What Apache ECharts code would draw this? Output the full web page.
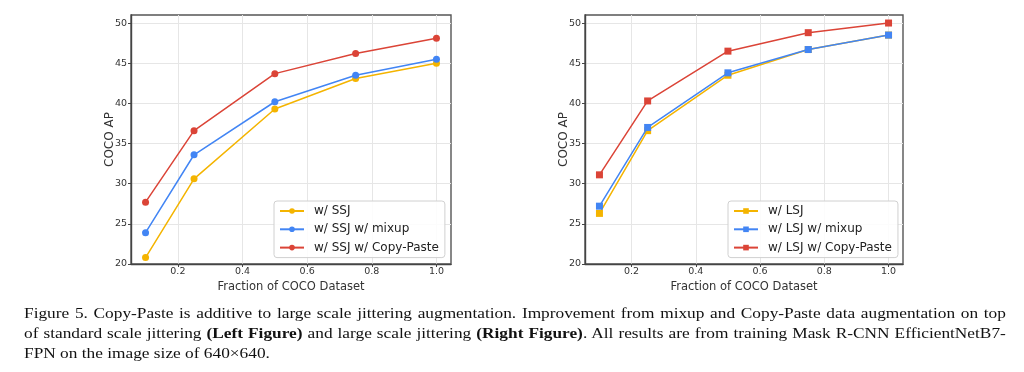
<!DOCTYPE html>
<html>
<head>
<meta charset="utf-8">
<script src="https://cdn.jsdelivr.net/npm/echarts@6/dist/echarts.min.js"></script>
<style>
  html, body { margin: 0; padding: 0; background: #fff; }
  #wrap { position: relative; width: 1024px; height: 372px; overflow: hidden; }
  #chart { position: absolute; left: 0; top: 0; width: 1024px; height: 372px; }
  #caption { position: absolute; left: 24px; top: 303px; width: 879px;
    transform: scaleX(1.117); transform-origin: 0 0;
    font-family: "Liberation Serif", "Times New Roman", serif; font-size: 15.5px; line-height: 19.8px; color: #111; }
  #caption .j { text-align: justify; text-align-last: justify; white-space: nowrap; }
  #caption b { font-weight: bold; }
</style>
</head>
<body>
<div id="wrap">
  <div id="chart"></div>
  <div id="caption">
    <div class="j">Figure 5. Copy-Paste is additive to large scale jittering augmentation. Improvement from mixup and Copy-Paste data augmentation on top</div>
    <div class="j">of standard scale jittering <b>(Left Figure)</b> and large scale jittering <b>(Right Figure)</b>. All results are from training Mask R-CNN EfficientNetB7-</div>
    <div>FPN on the image size of 640×640.</div>
  </div>
</div>
<script>
// ---- data ----
const fractions = [0.1, 0.25, 0.5, 0.75, 1.0];
const ssj = [20.8, 30.6, 39.3, 43.1, 45.0];
const ssjMixup = [23.9, 33.6, 40.2, 43.5, 45.5];
const ssjCopyPaste = [27.7, 36.6, 43.7, 46.2, 48.1];
const lsj = [26.3, 36.6, 43.5, 46.7, 48.5];
const lsjMixup = [27.2, 37.0, 43.8, 46.7, 48.5];
const lsjCopyPaste = [31.1, 40.3, 46.5, 48.8, 50.0];
const xTicks = [0.2, 0.4, 0.6, 0.8, 1.0];
const yTicks = [20, 25, 30, 35, 40, 45, 50];
const namesLeft = ['w/ SSJ', 'w/ SSJ w/ mixup', 'w/ SSJ w/ Copy-Paste'];
const namesRight = ['w/ LSJ', 'w/ LSJ w/ mixup', 'w/ LSJ w/ Copy-Paste'];
const xTitle = 'Fraction of COCO Dataset';
const yTitle = 'COCO AP';

const colors = ['#F4B400', '#4285F4', '#DB4437'];
const FONT = 'DejaVu Sans';

function pts(vals) { return fractions.map((x, i) => [x, vals[i]]); }

function xAxisCfg(gi) {
  return {
    type: 'value', gridIndex: gi, min: 0.055, max: 1.045,
    name: xTitle, nameLocation: 'middle', nameGap: 17, nameMoveOverlap: false,
    nameTextStyle: { fontFamily: FONT, fontSize: 11.5, color: '#333' },
    axisLine: { show: true, lineStyle: { color: '#444', width: 1.4 } },
    axisTick: { show: true, length: 3, lineStyle: { color: '#444' }, customValues: xTicks },
    axisLabel: { fontFamily: FONT, fontSize: 9.5, color: '#333', margin: 3, customValues: xTicks,
      formatter: v => v.toFixed(1) },
    splitLine: { show: true, lineStyle: { color: '#e6e6e6', width: 1 } }
  };
}
function yAxisCfg(gi) {
  return {
    type: 'value', gridIndex: gi, min: 20, max: 51,
    name: yTitle, nameLocation: 'middle', nameGap: 15, nameMoveOverlap: false,
    nameTextStyle: { fontFamily: FONT, fontSize: 12, color: '#333' },
    axisLine: { show: true, lineStyle: { color: '#444', width: 1.4 } },
    axisTick: { show: true, length: 3, lineStyle: { color: '#444' }, customValues: yTicks },
    axisLabel: { fontFamily: FONT, fontSize: 9.5, color: '#333', margin: 4, customValues: yTicks },
    splitLine: { show: true, lineStyle: { color: '#e6e6e6', width: 1 } }
  };
}
function seriesCfg(name, vals, ci, gi, symbol) {
  return {
    type: 'line', name: name, xAxisIndex: gi, yAxisIndex: gi,
    data: pts(vals), symbol: symbol, symbolSize: 7, showSymbol: true,
    lineStyle: { color: colors[ci], width: 1.5 },
    itemStyle: { color: colors[ci], borderColor: colors[ci], borderWidth: 0 },
    emphasis: { disabled: true }, animation: false, z: 3 + ci
  };
}
function legendCfg(names, left) {
  return {
    data: names, orient: 'vertical', left: left, top: 201,
    itemWidth: 24, itemHeight: 7, itemGap: 4.3,
    padding: [3, 6, 3, 5],
    backgroundColor: 'rgba(255,255,255,0.85)', borderColor: '#d0d0d0', borderWidth: 1, borderRadius: 3,
    textStyle: { fontFamily: FONT, fontSize: 12, color: '#222', lineHeight: 14, padding: [0, 0, 0, 5] }
  };
}

const chart = echarts.init(document.getElementById('chart'), null, { renderer: 'canvas' });
chart.setOption({
  animation: false,
  grid: [
    { left: 131, top: 15, width: 320, height: 249, show: true, borderColor: '#555', borderWidth: 1.4, containLabel: false },
    { left: 585, top: 15, width: 318, height: 249, show: true, borderColor: '#555', borderWidth: 1.4, containLabel: false }
  ],
  xAxis: [xAxisCfg(0), xAxisCfg(1)],
  yAxis: [yAxisCfg(0), yAxisCfg(1)],
  legend: [legendCfg(namesLeft, 274), legendCfg(namesRight, 728)],
  series: [
    seriesCfg(namesLeft[0], ssj, 0, 0, 'circle'),
    seriesCfg(namesLeft[1], ssjMixup, 1, 0, 'circle'),
    seriesCfg(namesLeft[2], ssjCopyPaste, 2, 0, 'circle'),
    seriesCfg(namesRight[0], lsj, 0, 1, 'rect'),
    seriesCfg(namesRight[1], lsjMixup, 1, 1, 'rect'),
    seriesCfg(namesRight[2], lsjCopyPaste, 2, 1, 'rect')
  ]
});
</script>
</body>
</html>
